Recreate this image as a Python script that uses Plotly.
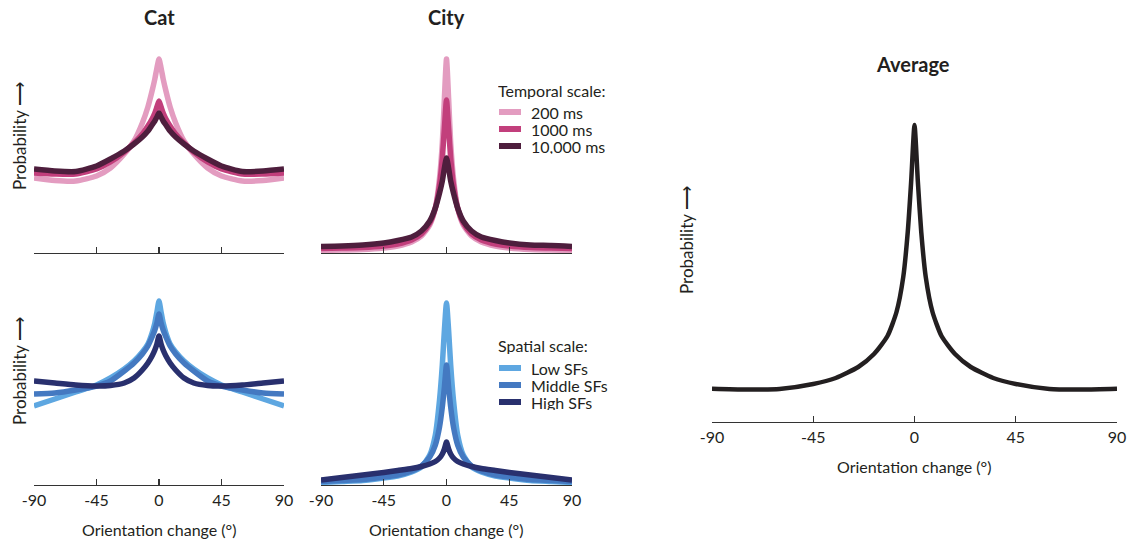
import plotly.graph_objects as go

# ---------------- data (relative probability, arbitrary units) ----------------
orientation_change = [-90, -75, -60, -45, -35, -25, -18, -12, -8, -5, -3, -1.5, 0,
                      1.5, 3, 5, 8, 12, 18, 25, 35, 45, 60, 75, 90]

temporal_labels = ["200 ms", "1000 ms", "10,000 ms"]
spatial_labels = ["Low SFs", "Middle SFs", "High SFs"]

cat_200ms = [75, 72.5, 72, 77, 85, 99, 112, 130, 146, 162, 174, 185, 194,
             185, 174, 162, 146, 130, 112, 99, 85, 77, 72, 72.5, 75]
cat_1000ms = [80, 79, 79, 84, 91, 101, 110, 119, 127, 134, 140, 146, 152,
              146, 140, 134, 127, 119, 110, 101, 91, 84, 79, 79, 80]
cat_10000ms = [84, 82, 81.5, 87, 94, 102, 109, 116, 122, 128, 132, 136, 140,
               136, 132, 128, 122, 116, 109, 102, 94, 87, 81.5, 82, 84]

city_200ms = [2.5, 3, 3.5, 5, 7, 11, 17, 28, 45, 75, 110, 155, 194,
              155, 110, 75, 45, 28, 17, 11, 7, 5, 3.5, 3, 2.5]
city_1000ms = [4.5, 5, 5.5, 7, 9, 13, 19, 30, 45, 68, 95, 125, 153,
               125, 95, 68, 45, 30, 19, 13, 9, 7, 5.5, 5, 4.5]
city_10000ms = [6.5, 7, 8, 10, 12.5, 16, 22, 32, 45, 60, 72, 85, 95,
                85, 72, 60, 45, 32, 22, 16, 12.5, 10, 8, 7.5, 6.5]

cat_low = [79, 86, 93, 100, 107, 116, 124, 133, 141, 152, 162, 173, 184,
           173, 162, 152, 141, 133, 124, 116, 107, 100, 93, 86, 79]
cat_middle = [91, 92, 95, 99, 104, 114, 122, 131, 139, 148, 155, 162, 171,
              162, 155, 148, 139, 131, 122, 114, 104, 99, 95, 92, 91]
cat_high = [104, 102, 100, 99, 99.5, 102, 107, 115, 122, 129, 135, 141, 149,
            141, 135, 129, 122, 115, 107, 102, 99.5, 99, 100, 102, 104]

city_low = [2.5, 3.5, 4.5, 7, 9, 13, 18, 30, 50, 85, 120, 155, 182,
            155, 120, 85, 50, 30, 18, 13, 9, 7, 4.5, 3.5, 2.5]
city_middle = [3.5, 4.5, 5.5, 8, 10, 14, 19, 28, 40, 58, 78, 98, 120,
               98, 78, 58, 40, 28, 19, 14, 10, 8, 5.5, 4.5, 3.5]
city_high = [5, 7.5, 10, 12.5, 14.5, 16.5, 18.5, 21, 23.5, 27, 31, 36, 43,
             36, 31, 27, 23.5, 21, 18.5, 16.5, 14.5, 12.5, 10, 7.5, 5]

average = [33.3, 32.5, 33, 38, 44, 55, 68, 86, 110, 145, 190, 240, 297,
           240, 190, 145, 110, 86, 68, 55, 44, 38, 33, 32.5, 33.3]

tick_vals = [-90, -45, 0, 45, 90]
tick_text = ["-90", "-45", "0", "45", "90"]

# ---------------- styling ----------------
W, H = 1129, 543
FONT = "Lato, 'Open Sans', sans-serif"
TXT = "#231F20"
temporal_colors = ["#E39CC0", "#C23F7C", "#4E1E3D"]
spatial_colors = ["#5EA7E1", "#4479C1", "#29306E"]
avg_color = "#231F20"


def fx(px):
    return px / W


def fy(py):
    return 1 - py / H


fig = go.Figure()

panels = [
    ("x", "y", [cat_200ms, cat_1000ms, cat_10000ms], temporal_colors),
    ("x2", "y2", [city_200ms, city_1000ms, city_10000ms], temporal_colors),
    ("x3", "y3", [cat_low, cat_middle, cat_high], spatial_colors),
    ("x4", "y4", [city_low, city_middle, city_high], spatial_colors),
]
for xa, ya, series, cols in panels:
    for s, c in zip(series, cols):
        fig.add_trace(go.Scatter(x=orientation_change, y=s, mode="lines",
                                 line=dict(color=c, width=5.5, shape="spline", smoothing=0.6),
                                 xaxis=xa, yaxis=ya, showlegend=False, hoverinfo="skip"))

fig.add_trace(go.Scatter(x=orientation_change, y=average, mode="lines",
                         line=dict(color=avg_color, width=4.5, shape="spline", smoothing=0.6),
                         xaxis="x5", yaxis="y5", showlegend=False, hoverinfo="skip"))

xbase = dict(range=[-90, 90], showline=True, linecolor="#333", linewidth=1.4,
             ticks="inside", ticklen=6, tickwidth=1.4, tickcolor="#333",
             tickmode="array", tickvals=tick_vals, ticktext=tick_text,
             showgrid=False, zeroline=False, fixedrange=True, automargin=False,
             tickfont=dict(family=FONT, size=16, color=TXT))
ybase = dict(visible=False, showgrid=False, zeroline=False, fixedrange=True, automargin=False)

left_dom = [fx(34), fx(284)]
mid_dom = [fx(321), fx(572)]
avg_dom = [fx(712), fx(1117)]
top_dom = [fy(253), fy(53)]
bot_dom = [fy(485), fy(285)]
avgy_dom = [fy(422), fy(112)]

fig.update_layout(
    template="none",
    width=W, height=H, margin=dict(l=0, r=0, t=0, b=0, pad=0), autosize=False,
    paper_bgcolor="white", plot_bgcolor="white",
    xaxis=dict(xbase, domain=left_dom, anchor="y", showticklabels=False),
    yaxis=dict(ybase, domain=top_dom, anchor="x", range=[0, 200]),
    xaxis2=dict(xbase, domain=mid_dom, anchor="y2", showticklabels=False),
    yaxis2=dict(ybase, domain=top_dom, anchor="x2", range=[0, 200]),
    xaxis3=dict(xbase, domain=left_dom, anchor="y3"),
    yaxis3=dict(ybase, domain=bot_dom, anchor="x3", range=[0, 200]),
    xaxis4=dict(xbase, domain=mid_dom, anchor="y4"),
    yaxis4=dict(ybase, domain=bot_dom, anchor="x4", range=[0, 200]),
    xaxis5=dict(xbase, domain=avg_dom, anchor="y5"),
    yaxis5=dict(ybase, domain=avgy_dom, anchor="x5", range=[0, 310]),
)

ann = []


def text(px, py, t, size=16, bold=False, angle=0, xanchor="center", height=None):
    a = dict(x=fx(px), y=fy(py), xref="paper", yref="paper", text=("<b>%s</b>" % t) if bold else t,
             showarrow=False, textangle=angle, xanchor=xanchor, yanchor="middle", borderpad=0,
             font=dict(family=FONT, size=size, color=TXT))
    if height is not None:
        a["height"] = height
        a["valign"] = "middle"
    ann.append(a)


PROB = "Probability \u27F6"
text(159, 17, "Cat", size=20, bold=True)
text(446, 17, "City", size=20, bold=True)
text(913, 64, "Average", size=20, bold=True)
text(19, 136, PROB, size=17, angle=-90)
text(19, 371, PROB, size=17, angle=-90)
text(686, 240, PROB, size=17, angle=-90)
text(159, 529, "Orientation change (\u00b0)")
text(446, 529, "Orientation change (\u00b0)")
text(914, 466, "Orientation change (\u00b0)")

# legends
shapes = []
text(497, 90, "Temporal scale:", xanchor="left", height=17)
for i, (lab, c) in enumerate(zip(temporal_labels, temporal_colors)):
    yy = 112 + 17 * i
    shapes.append(dict(type="line", xref="paper", yref="paper", x0=fx(499), x1=fx(521),
                       y0=fy(yy), y1=fy(yy), line=dict(color=c, width=6)))
    text(530, yy, lab, xanchor="left", height=16)
text(497, 345, "Spatial scale:", xanchor="left", height=17)
for i, (lab, c) in enumerate(zip(spatial_labels, spatial_colors)):
    yy = 368 + 17 * i
    shapes.append(dict(type="line", xref="paper", yref="paper", x0=fx(499), x1=fx(521),
                       y0=fy(yy), y1=fy(yy), line=dict(color=c, width=6)))
    text(530, yy, lab, xanchor="left", height=16)

fig.update_layout(annotations=ann, shapes=shapes)
fig.write_html("out.html", config={"displayModeBar": False, "staticPlot": True},
               post_script="document.body.style.margin='0px';document.body.style.padding='0px';")
